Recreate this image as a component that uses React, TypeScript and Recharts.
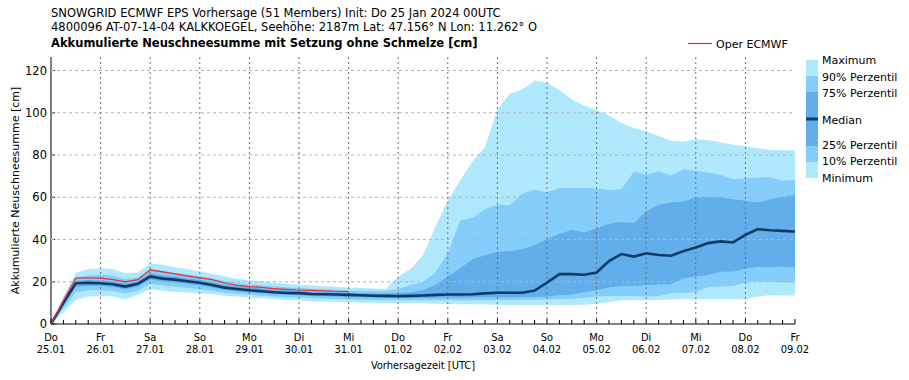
import React from "react";
import { Area, ComposedChart, Line, ReferenceLine, XAxis, YAxis } from "recharts";

// one value every 6 h, 25.01 00UTC .. 09.02 00UTC
const dayNames = ["Do", "Fr", "Sa", "So", "Mo", "Di", "Mi", "Do", "Fr", "Sa", "So", "Mo", "Di", "Mi", "Do", "Fr"];
const dayDates = ["25.01", "26.01", "27.01", "28.01", "29.01", "30.01", "31.01", "01.02", "02.02", "03.02", "04.02", "05.02", "06.02", "07.02", "08.02", "09.02"];

const maxVals = [
  0, 13, 24.3, 25.9, 26.4, 25.9, 24, 24.3, 28.8, 28.1, 26.9, 25.9, 25,
  23.8, 22.5, 21.5, 20.7, 20.2, 19.5, 19.1, 18.6, 18.2, 17.9, 17.6, 17.2,
  17, 16.8, 16.6, 22.5, 26, 32.5, 46, 58.5, 68, 77, 83.8, 101.5,
  109, 111, 115.3, 114.2, 110.7, 106.3, 103.4, 101.2, 98.7, 95.2, 92.8, 91.2,
  89, 86.8, 86.3, 87.6, 87, 86, 84.9, 84.1, 83.2, 82.4, 82.2, 82.2,
];
const p90Vals = [
  0, 12, 22, 23, 23.3, 22.8, 21.3, 22, 26, 25.2, 24.3, 23.5, 22.7,
  21.6, 20.3, 19.5, 18.8, 18.4, 17.8, 17.4, 17.1, 16.7, 16.4, 16.2, 15.9,
  15.8, 15.7, 15.7, 16.5, 18.5, 19.8, 24.4, 33.5, 49, 50.3, 54.4, 56.6,
  56.2, 61.8, 63.6, 62.3, 64.4, 64.5, 64.4, 64.2, 63.4, 63.9, 72.2, 70.7,
  72.3, 70.3, 73.3, 72.5, 71.7, 70.6, 68.5, 69, 69.4, 69.6, 67.8, 68.3,
];
const p75Vals = [
  0, 11, 20.5, 20.8, 20.7, 20.2, 19, 20.3, 24, 23, 22.4, 21.6, 20.9,
  19.8, 18.6, 17.9, 17.3, 16.8, 16.3, 16, 15.8, 15.4, 15.2, 15, 14.8,
  14.6, 14.5, 14.4, 14.6, 15, 16, 18.5, 22.5, 26.4, 30.7, 32.6, 34.1,
  34.4, 35.4, 37.4, 40.2, 42.6, 44.6, 43.3, 45.3, 47.5, 48.3, 47.8, 53.4,
  56.5, 57.5, 58, 60, 60.3, 60, 59, 58.4, 57.5, 59, 60.3, 61.2,
];
const medianVals = [
  0, 10, 19.3, 19.5, 19.3, 18.8, 17.7, 19, 22.5, 21.5, 21, 20.2, 19.5,
  18.5, 17.2, 16.6, 16, 15.5, 15, 14.7, 14.6, 14.2, 14.1, 14, 13.8,
  13.6, 13.4, 13.3, 13.2, 13.3, 13.5, 13.8, 14, 14, 14.1, 14.5, 14.8,
  14.8, 14.8, 15.8, 19.6, 23.6, 23.6, 23.3, 24.4, 29.8, 33.1, 31.9, 33.5,
  32.7, 32.3, 34.5, 36.2, 38.3, 39.1, 38.6, 42.2, 44.9, 44.4, 44.1, 43.8,
];
const p25Vals = [
  0, 9, 17.8, 18, 18, 17.5, 16.5, 17.8, 21, 20.2, 19.7, 19, 18.3,
  17.3, 16.2, 15.5, 15, 14.6, 14.1, 13.8, 13.6, 13.3, 13.1, 12.9, 12.7,
  12.5, 12.4, 12.3, 12.3, 12.3, 12.3, 12.3, 12.4, 12.4, 12.5, 12.6, 12.6,
  12.7, 12.7, 12.8, 13, 13.6, 14, 15, 16, 17.3, 18, 18, 18.4,
  18.7, 18.8, 21.7, 22.5, 23.2, 24.7, 24.8, 26.3, 27, 26.9, 27.2, 26.7,
];
const p10Vals = [
  0, 7.5, 15, 16, 16, 15.5, 14.5, 15.8, 19, 18.2, 17.6, 17.1, 16.5,
  15.7, 14.8, 14.3, 13.8, 13.4, 13, 12.7, 12.5, 12.2, 12, 11.8, 11.6,
  11.5, 11.4, 11.3, 11.3, 11.2, 11.2, 11.2, 11.2, 11.2, 11.3, 11.3, 11.4,
  11.4, 11.5, 11.5, 11.7, 11.8, 12, 12.4, 13, 13.3, 13.3, 13.2, 13,
  13.2, 14.5, 14.8, 15.2, 17.4, 17.7, 18, 19.6, 20.1, 19.9, 19.8, 19.8,
];
const minVals = [
  0, 5.5, 11.4, 13, 13.3, 13, 11.7, 13.8, 16.5, 15.8, 15.3, 14.9, 14.4,
  14.1, 13.4, 13, 12.5, 12.2, 11.7, 11.4, 11.1, 10.8, 10.7, 10.5, 10.3,
  10.2, 10.1, 10, 10, 9.9, 9.8, 9.6, 9.5, 9.4, 9.3, 9.2, 9.1,
  9, 9, 9, 9, 9, 9, 9.1, 9.6, 10.4, 11.2, 11.3, 11.2,
  11.4, 11.6, 11.7, 11.7, 11.7, 11.7, 11.7, 11.8, 13, 13.6, 13.5, 13.5,
];
// Oper ECMWF only runs to 31.01
const operVals = [
  0, 11, 21.7, 21.9, 21.7, 21, 19.9, 21, 25.6, 24.7, 23.7, 22.7, 21.8,
  21, 19.4, 18.3, 17.7, 17.3, 16.7, 16.4, 16.1, 15.9, 15.7, 15.5, 15.3,
];

const yTicks = [0, 20, 40, 60, 80, 100, 120];
const Y_TOP = 126.4;

const data = maxVals.map((_, i) => ({
  idx: i,
  outer: [minVals[i], maxVals[i]],
  mid: [p10Vals[i], p90Vals[i]],
  inner: [p25Vals[i], p75Vals[i]],
  median: medianVals[i],
  oper: i < operVals.length ? operVals[i] : null,
}));
const stepTicks = data.map((d) => d.idx);
const dayTicks = dayNames.map((_, d) => d * 4);

const LIGHT = "#b0e9fd";
const MID = "#85cdfb";
const DARK = "#62aeea";
const NAVY = "#0c3b68";
const RED = "#f52a2a";
const FONT = "'DejaVu Sans', sans-serif";
const COND = "'DejaVu Sans Condensed', 'DejaVu Sans', sans-serif";

const BottomTick = ({ x, y, payload }: any) => {
  const i = payload.value;
  const major = i % 4 === 0;
  return (
    <g>
      <line x1={x} x2={x} y1={y} y2={y - (major ? 5 : 4)} stroke="#000" />
      {major && (
        <text x={x} y={y + 17} textAnchor="middle" fontSize={11} fontFamily={COND} fill="#000">
          <tspan x={x}>{dayNames[i / 4]}</tspan>
          <tspan x={x} dy={11.5}>{dayDates[i / 4]}</tspan>
        </text>
      )}
    </g>
  );
};

const TopTick = ({ x, y }: any) => <line x1={x} x2={x} y1={y} y2={y + 4} stroke="#000" />;

const LeftTick = ({ x, y, payload }: any) => (
  <g>
    <line x1={x} x2={x + 4} y1={y} y2={y} stroke="#000" />
    <text x={x - 4} y={y + 4} textAnchor="end" fontSize={11.5} fontFamily={FONT} fill="#000">
      {payload.value}
    </text>
  </g>
);

const RightTick = ({ x, y }: any) => <line x1={x} x2={x - 4} y1={y} y2={y} stroke="#000" />;

const legendRows = [
  { label: "Maximum", y: 64 },
  { label: "90% Perzentil", y: 80.5 },
  { label: "75% Perzentil", y: 96.5 },
  { label: "Median", y: 124 },
  { label: "25% Perzentil", y: 149 },
  { label: "10% Perzentil", y: 165 },
  { label: "Minimum", y: 181.5 },
];

export default function App() {
  return (
    <div style={{ position: "absolute", left: 0, top: 0, width: 909, height: 380, background: "#fff" }}>
      {/* bands and axes frame */}
      <ComposedChart
        width={909}
        height={380}
        data={data}
        margin={{ top: 57, right: 114, bottom: 26, left: 11 }}
      >
        <XAxis
          dataKey="idx"
          type="number"
          domain={[0, 60]}
          ticks={stepTicks}
          interval={0}
          height={30}
          tickSize={0}
          tickMargin={0}
          tickLine={false}
          tick={<BottomTick />}
          axisLine={{ stroke: "#000" }}
        />
        <XAxis
          xAxisId="top"
          dataKey="idx"
          type="number"
          orientation="top"
          domain={[0, 60]}
          ticks={stepTicks}
          interval={0}
          height={0}
          tickSize={0}
          tickMargin={0}
          tickLine={false}
          tick={<TopTick />}
          axisLine={{ stroke: "#000" }}
        />
        <YAxis
          type="number"
          domain={[0, Y_TOP]}
          allowDataOverflow
          ticks={yTicks}
          interval={0}
          width={40}
          tickSize={0}
          tickMargin={0}
          tickLine={false}
          tick={<LeftTick />}
          axisLine={{ stroke: "#000" }}
        />
        <YAxis
          yAxisId="right"
          orientation="right"
          type="number"
          domain={[0, Y_TOP]}
          allowDataOverflow
          ticks={yTicks}
          interval={0}
          width={0}
          tickSize={0}
          tickMargin={0}
          tickLine={false}
          tick={<RightTick />}
          axisLine={{ stroke: "#000" }}
        />
        <Area type="linear" dataKey="outer" stroke="none" fill={LIGHT} fillOpacity={1} isAnimationActive={false} />
        <Area type="linear" dataKey="mid" stroke="none" fill={MID} fillOpacity={1} isAnimationActive={false} />
        <Area type="linear" dataKey="inner" stroke="none" fill={DARK} fillOpacity={1} isAnimationActive={false} />
      </ComposedChart>

      {/* dotted grid over the bands, then median and oper lines on top, same plot rect */}
      <div style={{ position: "absolute", left: 0, top: 0, pointerEvents: "none" }}>
        <ComposedChart
          width={909}
          height={380}
          data={data}
          margin={{ top: 57, right: 114, bottom: 56, left: 51 }}
        >
          <XAxis dataKey="idx" type="number" domain={[0, 60]} hide />
          <YAxis type="number" domain={[0, Y_TOP]} allowDataOverflow hide />
          {yTicks.slice(1).map((v) => (
            <ReferenceLine key={"h" + v} y={v} stroke="#b4b4b4" strokeDasharray="3 3" />
          ))}
          {dayTicks.slice(1, -1).map((v) => (
            <ReferenceLine key={"v" + v} x={v} stroke="#6e6e6e" strokeDasharray="2 3" />
          ))}
          <Line type="linear" dataKey="median" stroke={NAVY} strokeWidth={2.6} dot={false} isAnimationActive={false} />
          <Line type="linear" dataKey="oper" stroke={RED} strokeWidth={1.2} dot={false} connectNulls={false} isAnimationActive={false} />
        </ComposedChart>
      </div>

      <svg width={909} height={380} style={{ position: "absolute", left: 0, top: 0, pointerEvents: "none" }}>
        <g fontFamily={FONT} fill="#000">
          <text x={51} y={16.5} fontSize={11.5}>SNOWGRID ECMWF EPS Vorhersage (51 Members) Init: Do 25 Jan 2024 00UTC</text>
          <text x={51} y={30.5} fontSize={11.5}>4800096 AT-07-14-04 KALKKOEGEL, Seehöhe: 2187m Lat: 47.156° N Lon: 11.262° O</text>
          <text x={51} y={46.5} fontSize={11.5} fontWeight="bold">Akkumulierte Neuschneesumme mit Setzung ohne Schmelze [cm]</text>
          <line x1={688} x2={712} y1={43.5} y2={43.5} stroke={RED} strokeWidth={1.2} />
          <text x={716} y={47.5} fontSize={11}>Oper ECMWF</text>
          <text x={423} y={369} fontSize={11} fontFamily={COND} textAnchor="middle">Vorhersagezeit [UTC]</text>
          <text x={19} y={190.5} fontSize={11} textAnchor="middle" transform="rotate(-90 19 190.5)">
            Akkumulierte Neuschneesumme [cm]
          </text>
          <rect x={806} y={60} width={12} height={16} fill={LIGHT} />
          <rect x={806} y={76} width={12} height={16} fill={MID} />
          <rect x={806} y={92} width={12} height={54} fill={DARK} />
          <rect x={806} y={117.5} width={12} height={3} fill={NAVY} />
          <rect x={806} y={146} width={12} height={16} fill={MID} />
          <rect x={806} y={162} width={12} height={16} fill={LIGHT} />
          {legendRows.map((r) => (
            <text key={r.label} x={822} y={r.y} fontSize={11}>{r.label}</text>
          ))}
        </g>
      </svg>
    </div>
  );
}
